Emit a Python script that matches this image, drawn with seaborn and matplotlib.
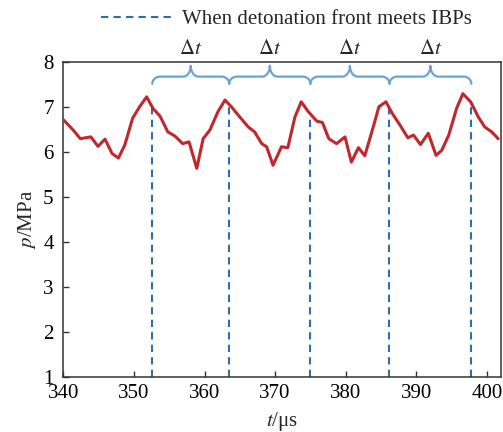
import numpy as np
import pandas as pd
import matplotlib
matplotlib.use("Agg")
import matplotlib.pyplot as plt
import seaborn as sns

# ---- data ----
t_us = [340.0, 341.4, 342.4, 343.9, 344.9, 345.9, 346.9, 347.8, 348.7, 349.8,
        350.8, 351.8, 352.7, 353.7, 354.8, 355.8, 356.9, 357.8, 358.9, 359.8,
        360.75, 361.9, 362.9, 363.8, 365.0, 366.2, 367.1, 368.1, 368.8, 369.7,
        370.9, 371.8, 372.8, 373.7, 374.7, 375.9, 376.7, 377.6, 378.7, 379.9,
        380.8, 381.8, 382.7, 383.9, 384.7, 385.7, 386.6, 387.7, 388.8, 389.6,
        390.6, 391.7, 392.8, 393.6, 394.6, 395.7, 396.6, 397.7, 398.8, 399.7,
        400.7, 401.6]
p_mpa = [6.72, 6.49, 6.30, 6.34, 6.13, 6.29, 5.97, 5.87, 6.16, 6.75,
         7.01, 7.23, 6.97, 6.80, 6.45, 6.36, 6.19, 6.23, 5.64, 6.30,
         6.49, 6.90, 7.16, 7.01, 6.78, 6.56, 6.45, 6.19, 6.12, 5.71,
         6.12, 6.10, 6.78, 7.12, 6.90, 6.69, 6.66, 6.30, 6.19, 6.34,
         5.78, 6.10, 5.92, 6.56, 7.01, 7.12, 6.86, 6.60, 6.32, 6.38,
         6.17, 6.42, 5.93, 6.04, 6.38, 6.97, 7.30, 7.12, 6.78, 6.56,
         6.45, 6.30]
meet_times = [352.6, 363.5, 375.0, 386.2, 397.8]
x_ticks = [340, 350, 360, 370, 380, 390, 400]
y_ticks = [1, 2, 3, 4, 5, 6, 7, 8]
legend_label = "When detonation front meets IBPs"
interval_label = r"$\Delta t$"

df = pd.DataFrame({"t": t_us, "p": p_mpa})

sns.set_style("ticks")
plt.rcParams["font.family"] = ["Liberation Serif", "DejaVu Serif"]
plt.rcParams["mathtext.fontset"] = "stix"

fig = plt.figure(figsize=(5.03, 4.32), dpi=100)
ax = fig.add_axes([0.126, 0.127, 0.870, 0.729])

red = "#c1272d"
dblue = "#2f6ea8"
lblue = "#6aa3d5"

sns.lineplot(data=df, x="t", y="p", ax=ax, color=red, lw=2.2, zorder=3)

# dashed vertical markers up to the curve
for i, tm in enumerate(meet_times):
    top = np.interp(tm, t_us, p_mpa)
    ax.plot([tm, tm], [1, top], color=dblue, lw=1.5, ls=(0, (3.5, 2.5)),
            zorder=2, label=legend_label if i == 0 else None)

# braces between successive markers
y_flat, y_end, y_tip = 7.68, 7.52, 7.92
rx = 1.1
th = np.linspace(0, np.pi / 2, 20)
for a, b in zip(meet_times[:-1], meet_times[1:]):
    m = 0.5 * (a + b)
    xs1 = a + rx - rx * np.cos(th)
    ys1 = y_end + (y_flat - y_end) * np.sin(th)
    xs2 = m - rx + rx * np.sin(th)
    ys2 = y_tip - (y_tip - y_flat) * np.cos(th)
    left_x = np.concatenate([xs1, xs2])
    left_y = np.concatenate([ys1, ys2])
    right_x = (2 * m - left_x)[::-1]
    right_y = left_y[::-1]
    ax.plot(np.concatenate([left_x, right_x]), np.concatenate([left_y, right_y]),
            color=lblue, lw=1.6, solid_capstyle="round", clip_on=False, zorder=4)
    ax.text(m, 8.07, interval_label, ha="center", va="bottom", fontsize=15,
            clip_on=False)

ax.set_xlim(340, 402)
ax.set_ylim(1, 8)
ax.set_xticks(x_ticks)
ax.set_yticks(y_ticks)
ax.tick_params(direction="in", labelsize=15, length=4, width=1, colors="#333333",
               labelcolor="black")
ax.tick_params(axis="x", pad=5)
ax.tick_params(axis="y", pad=7)
for s in ax.spines.values():
    s.set_linewidth(1.1)
    s.set_color("#333333")
ax.set_xlabel(r"$t$/μs", fontsize=15, labelpad=5)
ax.set_ylabel(r"$p$/MPa", fontsize=15, labelpad=4)

ax.legend(loc="center", bbox_to_anchor=(0.51, 1.135), frameon=False,
          fontsize=15, handlelength=3.5, handletextpad=0.4, borderaxespad=0)

fig.savefig("out.png", dpi=100)
